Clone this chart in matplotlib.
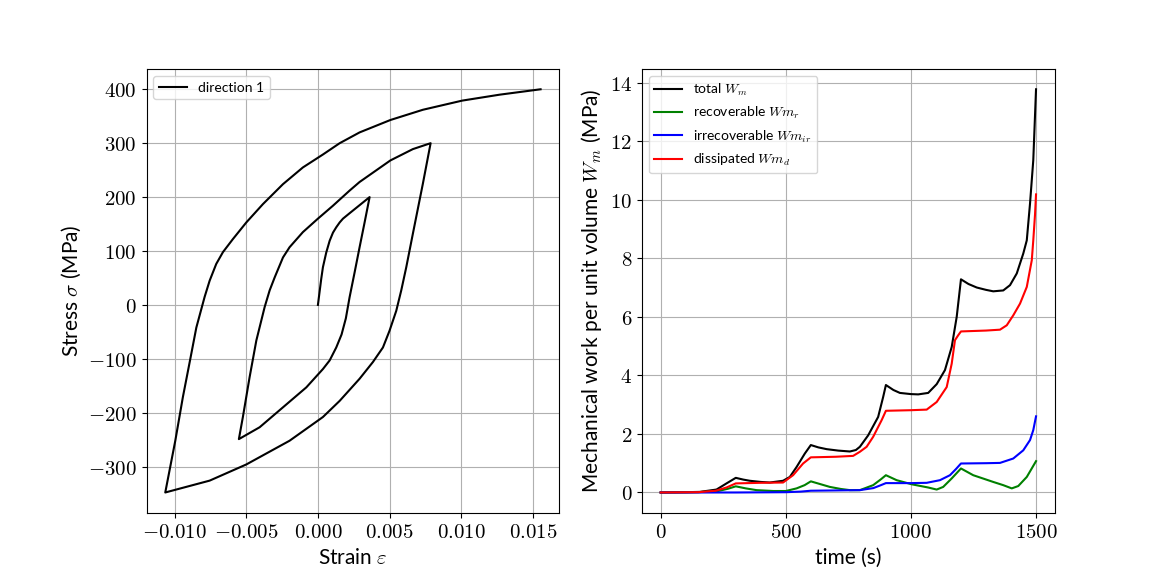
import matplotlib
matplotlib.use("Agg")
import matplotlib.pyplot as plt
from matplotlib.ticker import StrMethodFormatter

plt.rcParams['mathtext.fontset'] = 'cm'
plt.rcParams['font.family'] = ['Lato', 'DejaVu Sans']

# stress-strain loop
strain = [0, 0.00012, 0.00023, 0.00035, 0.00058, 0.00082, 0.00105, 0.00128, 0.00152, 0.00175, 0.00221,
          0.00291, 0.00361,
          0.00326, 0.00291, 0.00256, 0.00221, 0.00195, 0.00165, 0.00128, 0.00082, 0.00035, -0.00081,
          -0.00244, -0.00407, -0.00552,
          -0.00524, -0.00477, -0.0043, -0.00372, -0.00337, -0.00302, -0.00244, -0.00198, -0.00105, 0,
          0.00105, 0.00221, 0.00291, 0.00506, 0.00663, 0.00787,
          0.00733, 0.00663, 0.00617, 0.00582, 0.00547, 0.005, 0.00454, 0.00384, 0.00291, 0.00152, 0.00035,
          -0.00198, -0.005, -0.00756, -0.01066,
          -0.00996, -0.00943, -0.00891, -0.00849, -0.00791, -0.00756, -0.0071, -0.00663, -0.00594, -0.005,
          -0.00384, -0.00244, -0.00105, 0.00035, 0.00152, 0.00291, 0.00506, 0.00733, 0.01008, 0.01269,
          0.01555]
stress = [0, 25, 48, 70, 97, 119, 134, 144, 153, 160, 170,
          185, 200,
          153, 107, 60, 14, -25, -55, -79, -103, -119, -153,
          -190, -227, -249,
          -208, -134, -66, -4, 27, 51, 88, 107, 135, 160,
          184, 212, 228, 268, 289, 300,
          225, 132, 70, 27, -11, -48, -79, -106, -137, -178, -208,
          -252, -296, -326, -348,
          -252, -171, -100, -42, 15, 45, 76, 98, 122, 153,
          187, 224, 255, 279, 300, 320, 343, 362, 379, 390,
          400]

# mechanical work vs time
t_total = [0, 100, 156, 223, 263, 300, 330, 356, 400, 436, 489, 516, 543, 576, 600, 630, 663, 710, 756,
           780, 796, 829, 869, 889, 900, 930, 956, 1000, 1029, 1069, 1103, 1136, 1163, 1183, 1200, 1230,
           1263, 1300, 1329, 1369, 1396, 1423, 1449, 1463, 1476, 1489, 1500]
w_total = [0, 0.01, 0.02, 0.1, 0.31, 0.5, 0.44, 0.4, 0.36, 0.34, 0.4, 0.53, 0.87, 1.33, 1.62, 1.54,
           1.48, 1.43, 1.4, 1.45, 1.56, 1.95, 2.58, 3.26, 3.67, 3.5, 3.4, 3.36, 3.35, 3.4, 3.7, 4.18,
           4.97, 6.0, 7.28, 7.12, 7.0, 6.92, 6.87, 6.9, 7.08, 7.48, 8.16, 8.61, 9.87, 11.35, 13.77]

t_rec = [0, 150, 230, 270, 300, 340, 383, 450, 500, 543, 575, 600, 640, 676, 720, 756, 796, 849, 880,
         900, 943, 1003, 1069, 1103, 1129, 1163, 1200, 1249, 1329, 1369, 1403, 1429, 1463, 1500]
w_rec = [0, 0.01, 0.05, 0.13, 0.21, 0.14, 0.08, 0.05, 0.05, 0.14, 0.25, 0.38, 0.28, 0.19, 0.12, 0.08,
         0.08, 0.25, 0.45, 0.59, 0.42, 0.28, 0.17, 0.1, 0.19, 0.48, 0.82, 0.59, 0.36, 0.25, 0.14, 0.22,
         0.53, 1.07]

t_irr = [0, 300, 500, 560, 600, 700, 796, 850, 880, 900, 1000, 1063, 1116, 1156, 1180, 1200, 1300, 1356,
         1409, 1449, 1476, 1489, 1500]
w_irr = [0, 0, 0.01, 0.03, 0.06, 0.07, 0.08, 0.15, 0.25, 0.32, 0.32, 0.33, 0.42, 0.59, 0.8, 0.99, 1.0,
         1.01, 1.16, 1.44, 1.79, 2.13, 2.6]

t_diss = [0, 150, 220, 263, 300, 400, 489, 529, 569, 600, 700, 769, 796, 823, 849, 883, 900, 1000, 1063,
          1103, 1143, 1163, 1176, 1189, 1200, 1300, 1356, 1383, 1409, 1436, 1463, 1483, 1489, 1496, 1500]
w_diss = [0, 0.01, 0.06, 0.17, 0.31, 0.33, 0.34, 0.59, 0.99, 1.2, 1.22, 1.25, 1.39, 1.56, 1.9, 2.47,
          2.79, 2.81, 2.83, 3.09, 3.6, 4.4, 5.2, 5.37, 5.5, 5.53, 5.56, 5.71, 6.05, 6.45, 7.02, 7.93,
          8.61, 9.5, 10.18]

fig, (ax1, ax2) = plt.subplots(1, 2, figsize=(11.72, 5.76), dpi=100)

ax1.plot(strain, stress, color='k', lw=1.5, label='direction 1')
ax1.set_xlabel(r'Strain $\varepsilon$', fontsize=15)
ax1.set_ylabel(r'Stress $\sigma$ (MPa)', fontsize=15)
ax1.xaxis.set_major_formatter(StrMethodFormatter(r'${x:.3f}$'))
ax1.yaxis.set_major_formatter(StrMethodFormatter(r'${x:.0f}$'))
ax1.tick_params(labelsize=15)
ax1.grid(True)
ax1.legend(loc='upper left', fontsize=10)

ax2.plot(t_total, w_total, color='k', lw=1.5, label=r'total $W_m$')
ax2.plot(t_rec, w_rec, color='g', lw=1.5, label=r'recoverable $Wm_r$')
ax2.plot(t_irr, w_irr, color='b', lw=1.5, label=r'irrecoverable $Wm_{ir}$')
ax2.plot(t_diss, w_diss, color='r', lw=1.5, label=r'dissipated $Wm_d$')
ax2.set_xlabel('time (s)', fontsize=15)
ax2.set_ylabel(r'Mechanical work per unit volume $W_m$ (MPa)', fontsize=15)
ax2.xaxis.set_major_formatter(StrMethodFormatter(r'${x:.0f}$'))
ax2.yaxis.set_major_formatter(StrMethodFormatter(r'${x:.0f}$'))
ax2.tick_params(labelsize=15)
ax2.grid(True)
ax2.legend(loc='upper left', fontsize=10)

fig.savefig('out.png', dpi=100)
